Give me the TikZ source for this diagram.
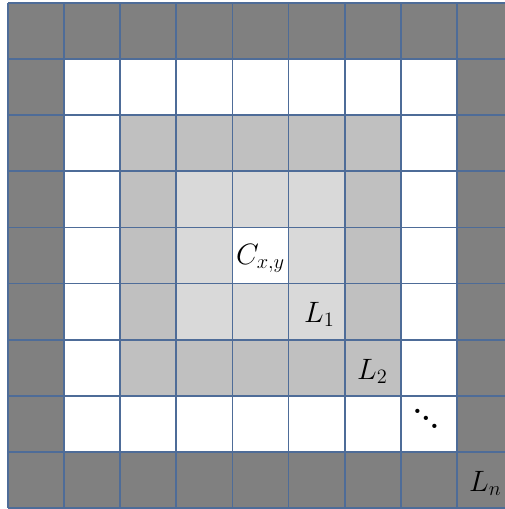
\documentclass[tikz,border=0pt]{standalone}
\usepackage{amsmath}
\usepackage{graphicx}
\definecolor{gridline}{RGB}{78,108,152}
\definecolor{ringA}{RGB}{128,128,128}
\definecolor{ringB}{RGB}{192,192,192}
\definecolor{ringC}{RGB}{217,217,217}
\newcommand{\cellmath}[1]{\scalebox{1.42}{\huge$#1$}}
\newcommand{\diagdots}{\scalebox{1.42}{\huge\bfseries\raisebox{10.4pt}{.}\kern-0.5pt\raisebox{5.2pt}{.}\kern-0.5pt.}}
\begin{document}
\begin{tikzpicture}[x=1pt,y=-1pt,
  lab/.style={inner sep=0pt,anchor=base west}]
\useasboundingbox (0,0) rectangle (505,509);
\clip (0,0) rectangle (505,509);
\def\cs{56.1}
\foreach \i in {0,...,8}{
  \foreach \j in {0,...,8}{
    \pgfmathtruncatemacro{\r}{max(abs(\i-4),abs(\j-4))}
    \ifcase\r
      \def\fc{white}\or\def\fc{ringC}\or\def\fc{ringB}\or\def\fc{white}\or\def\fc{ringA}\fi
    \fill[\fc] ({8+\i*\cs},{3+\j*\cs}) rectangle ++(\cs,\cs);
  }
}
\foreach \k in {0,...,9}{
  \draw[gridline,line width=1.8pt] ({8+\k*\cs},3) -- ({8+\k*\cs},{3+9*\cs});
  \draw[gridline,line width=1.8pt] (8,{3+\k*\cs}) -- ({8+9*\cs},{3+\k*\cs});
}
\node[lab] (c) at (236,264) {\cellmath{C_{x,y}}};
\node[lab] (l1) at (304,322) {\cellmath{L_1}};
\node[lab] (l2) at (357,379) {\cellmath{L_2}};
\node[lab,anchor=base] (dd) at (426,428) {\diagdots};
\node[lab] (ln) at (469,491) {\cellmath{L_n}};
\end{tikzpicture}
\end{document}
